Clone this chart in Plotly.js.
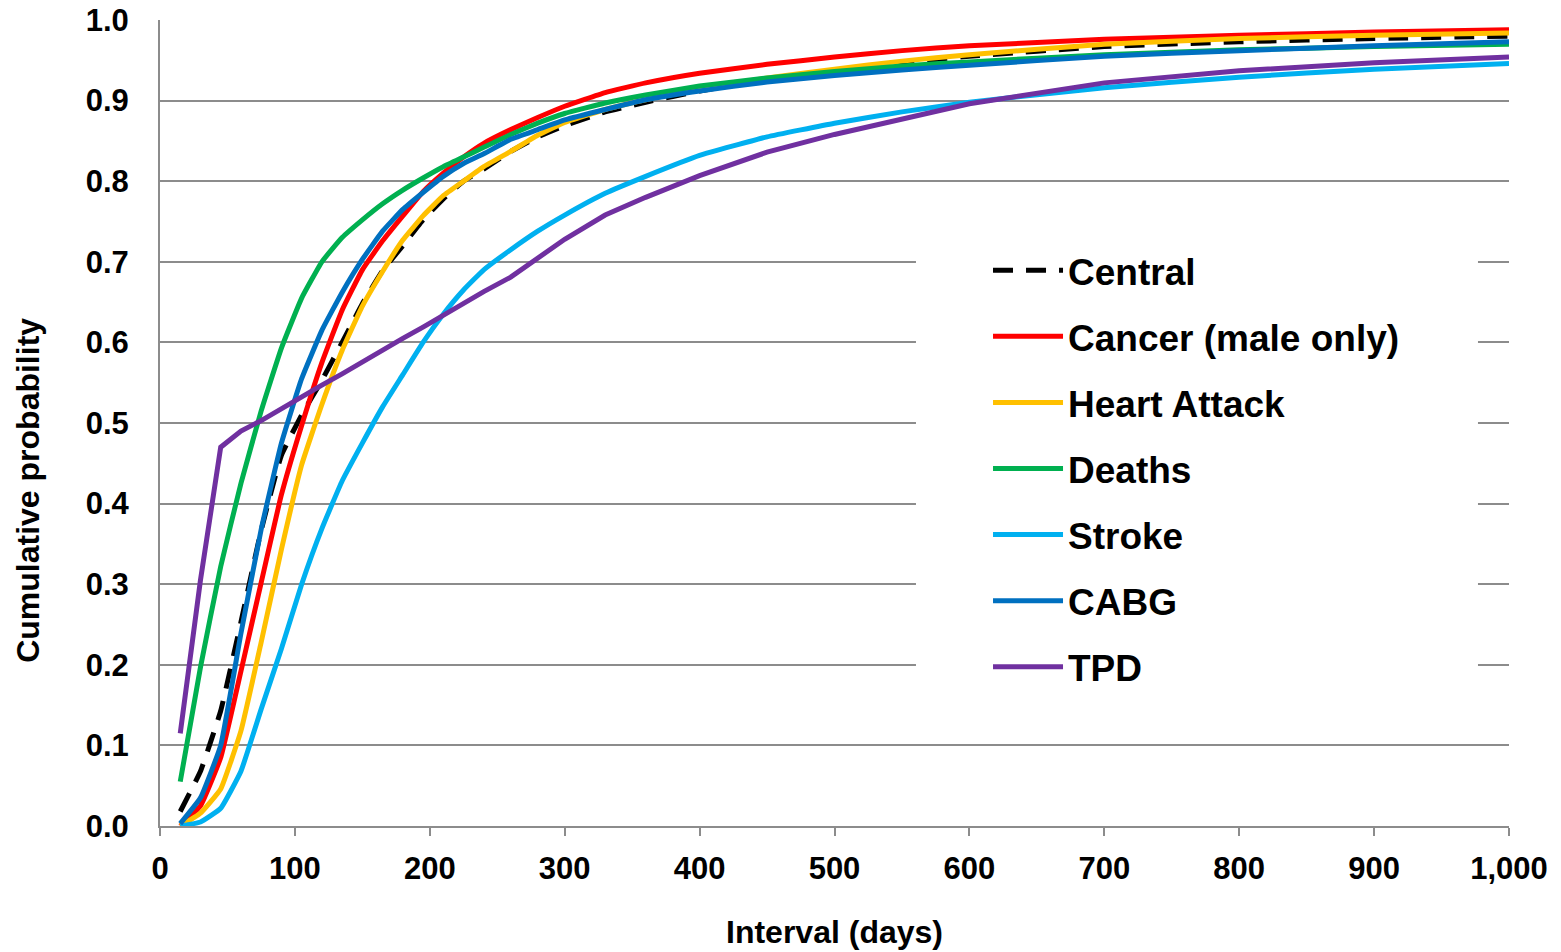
<!DOCTYPE html>
<html><head><meta charset="utf-8">
<script src="https://cdn.plot.ly/plotly-3.0.1.min.js"></script>
<style>html,body{margin:0;padding:0;background:#fff}#chart{width:1561px;height:952px}</style>
</head><body><div id="chart"></div>
<script>
// Interval (days)
const days = [15, 30, 45, 60, 75, 90, 105, 120, 135, 150, 165, 180, 195, 210, 225, 240, 260, 280, 300, 330, 360, 400, 450, 500, 550, 600, 700, 800, 900, 1000];

// Cumulative probability per series
const central = [0.018, 0.068, 0.143, 0.253, 0.367, 0.46, 0.51, 0.553, 0.60, 0.648, 0.689, 0.72, 0.752, 0.778, 0.80, 0.815, 0.837, 0.855, 0.869, 0.886, 0.898, 0.912, 0.926, 0.937, 0.947, 0.955, 0.967, 0.973, 0.977, 0.980];
const cancer = [0.0, 0.025, 0.085, 0.192, 0.302, 0.411, 0.497, 0.575, 0.64, 0.69, 0.726, 0.757, 0.787, 0.81, 0.83, 0.847, 0.864, 0.879, 0.893, 0.91, 0.922, 0.934, 0.945, 0.954, 0.962, 0.968, 0.976, 0.981, 0.985, 0.988];
const heartAttack = [0.0, 0.016, 0.046, 0.118, 0.228, 0.343, 0.448, 0.523, 0.59, 0.645, 0.688, 0.727, 0.757, 0.782, 0.80, 0.818, 0.837, 0.857, 0.873, 0.889, 0.901, 0.915, 0.928, 0.939, 0.949, 0.957, 0.970, 0.977, 0.981, 0.984];
const deaths = [0.055, 0.197, 0.322, 0.425, 0.515, 0.593, 0.655, 0.70, 0.73, 0.752, 0.772, 0.789, 0.804, 0.818, 0.83, 0.842, 0.858, 0.872, 0.884, 0.897, 0.907, 0.918, 0.928, 0.936, 0.943, 0.948, 0.957, 0.963, 0.967, 0.970];
const stroke = [0.0, 0.005, 0.022, 0.068, 0.145, 0.22, 0.30, 0.369, 0.428, 0.475, 0.52, 0.56, 0.60, 0.635, 0.665, 0.69, 0.715, 0.738, 0.758, 0.785, 0.806, 0.832, 0.855, 0.872, 0.886, 0.898, 0.916, 0.929, 0.939, 0.946];
const cabg = [0.003, 0.035, 0.10, 0.239, 0.368, 0.475, 0.555, 0.615, 0.662, 0.703, 0.738, 0.765, 0.786, 0.806, 0.822, 0.834, 0.852, 0.864, 0.876, 0.889, 0.901, 0.912, 0.923, 0.931, 0.938, 0.944, 0.955, 0.962, 0.968, 0.973];
const tpd = [0.115, 0.305, 0.47, 0.49, 0.503, 0.518, 0.533, 0.547, 0.561, 0.576, 0.59, 0.605, 0.619, 0.634, 0.648, 0.663, 0.681, 0.705, 0.728, 0.758, 0.78, 0.807, 0.836, 0.858, 0.877, 0.896, 0.922, 0.937, 0.947, 0.954];

const seriesNames = ['Central', 'Cancer (male only)', 'Heart Attack', 'Deaths', 'Stroke', 'CABG', 'TPD'];
const seriesValues = [central, cancer, heartAttack, deaths, stroke, cabg, tpd];

const colors = ['#000000', '#FF0000', '#FFC000', '#00B050', '#00B0F0', '#0070C0', '#7030A0'];
const FONT = 'Liberation Sans, Arial, Helvetica, sans-serif';

const traces = seriesNames.map((name, i) => ({
  type: 'scatter',
  mode: 'lines',
  name: name,
  legendgroup: 'g' + i,
  x: days,
  y: seriesValues[i],
  line: {
    color: colors[i],
    width: 5,
    dash: i === 0 ? '20px,13px' : 'solid',
    shape: i === 6 ? 'linear' : 'spline',
    smoothing: 0.35
  },
  hoverinfo: 'x+y+name'
}));

const layout = {
  width: 1561,
  height: 952,
  margin: {l: 160, r: 52, t: 20, b: 126},
  paper_bgcolor: '#ffffff',
  plot_bgcolor: '#ffffff',
  font: {family: FONT, color: '#000000'},
  showlegend: true,
  legend: {
    x: 0.6138, xanchor: 'left',
    y: 0.7275, yanchor: 'top',
    bgcolor: 'rgba(0,0,0,0)',
    borderwidth: 0,
    font: {family: FONT, size: 37, color: '#000000', weight: 'bold'},
    traceorder: 'grouped',
    tracegroupgap: 15,
    itemwidth: 70
  },
  xaxis: {
    range: [0, 1000],
    tick0: 0, dtick: 100,
    tickformat: ',d',
    showgrid: false,
    zeroline: false,
    showline: true, linecolor: '#8c8c8c', linewidth: 2,
    ticks: 'outside', ticklen: 8, tickwidth: 2, tickcolor: '#8c8c8c',
    ticklabelstandoff: 6,
    tickfont: {family: FONT, size: 31, color: '#000000', weight: 'bold'},
    title: {text: 'Interval (days)', font: {family: FONT, size: 32, color: '#000000', weight: 'bold'}, standoff: 35}
  },
  yaxis: {
    range: [0, 1],
    tick0: 0, dtick: 0.1,
    tickformat: '.1f',
    showgrid: true, gridcolor: '#8c8c8c', gridwidth: 2,
    zeroline: false,
    showline: true, linecolor: '#8c8c8c', linewidth: 2,
    ticks: '',
    ticklabelstandoff: 23,
    tickfont: {family: FONT, size: 31, color: '#000000', weight: 'bold'}
  },
  shapes: [{
    type: 'rect', xref: 'paper', yref: 'paper', layer: 'above',
    x0: 0.5604, x1: 0.977, y0: 0.15, y1: 0.74,
    fillcolor: '#ffffff', line: {width: 0}
  }],
  annotations: [{
    text: 'Cumulative probability',
    xref: 'paper', yref: 'paper',
    x: -0.0979, y: 0.417,
    xanchor: 'center', yanchor: 'middle',
    textangle: -90, showarrow: false,
    font: {family: FONT, size: 32, color: '#000000', weight: 'bold'}
  }]
};

Plotly.newPlot('chart', traces, layout, {displayModeBar: false, responsive: false});
</script>
</body></html>
